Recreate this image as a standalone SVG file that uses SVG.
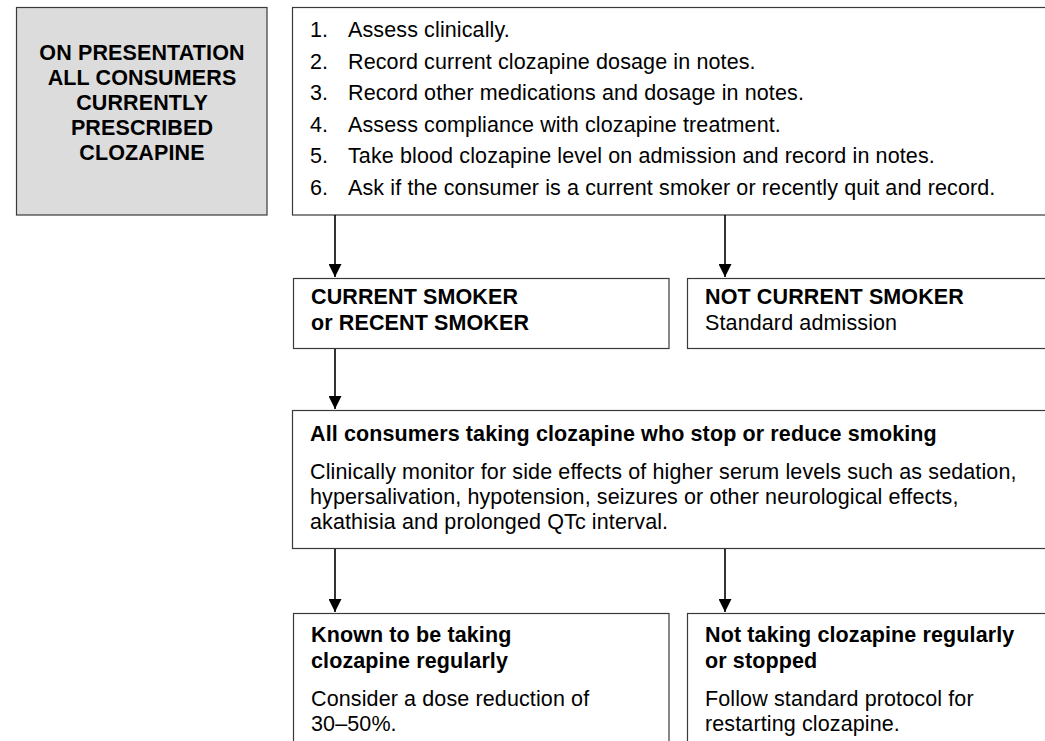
<svg xmlns="http://www.w3.org/2000/svg" width="1045" height="741" viewBox="0 0 1045 741">
<defs>
<style>
.box{fill:#fff;stroke:#3a3a3a;stroke-width:1.2}
.grey{fill:#dcdcdc;stroke:#3a3a3a;stroke-width:1.2}
text{font-family:"Liberation Sans",Arial,sans-serif;font-size:21.5px;fill:#000;letter-spacing:0.12px}
.b{font-weight:bold}
.c{text-anchor:middle;font-size:21.5px}
.con{stroke:#000;stroke-width:1.6;fill:none}
</style>
<marker id="ah" markerWidth="13" markerHeight="13" viewBox="0 0 13 13" refX="13" refY="6.5" orient="auto" markerUnits="userSpaceOnUse">
<path d="M0,0 L13,6.5 L0,13 Z" fill="#000"/>
</marker>
</defs>
<rect width="1045" height="741" fill="#fff"/>
<g id="start">
<rect class="grey" x="16.5" y="7.5" width="250.5" height="207.5"/>
<text class="b c" x="142" y="60">ON PRESENTATION</text>
<text class="b c" x="142" y="85">ALL CONSUMERS</text>
<text class="b c" x="142" y="110">CURRENTLY</text>
<text class="b c" x="142" y="135">PRESCRIBED</text>
<text class="b c" x="142" y="160">CLOZAPINE</text>
</g>
<g id="steps">
<rect class="box" x="292.5" y="7.5" width="760" height="207.5"/>
<text x="310" y="37">1.</text><text x="348" y="37">Assess clinically.</text>
<text x="310" y="68.5">2.</text><text x="348" y="68.5">Record current clozapine dosage in notes.</text>
<text x="310" y="100">3.</text><text x="348" y="100">Record other medications and dosage in notes.</text>
<text x="310" y="131.5">4.</text><text x="348" y="131.5">Assess compliance with clozapine treatment.</text>
<text x="310" y="163">5.</text><text x="348" y="163">Take blood clozapine level on admission and record in notes.</text>
<text x="310" y="194.5">6.</text><text x="348" y="194.5">Ask if the consumer is a current smoker or recently quit and record.</text>
</g>
<g id="smoker">
<rect class="box" x="293.5" y="278.5" width="375.5" height="70"/>
<text class="b" x="311" y="304">CURRENT SMOKER</text>
<text class="b" x="311" y="330">or RECENT SMOKER</text>
</g>
<g id="nonsmoker">
<rect class="box" x="687.5" y="278.5" width="365" height="70"/>
<text class="b" x="705" y="304">NOT CURRENT SMOKER</text>
<text x="705" y="330">Standard admission</text>
</g>
<g id="monitor">
<rect class="box" x="292.5" y="410.5" width="760" height="138"/>
<text class="b" x="310" y="441">All consumers taking clozapine who stop or reduce smoking</text>
<text x="310" y="479">Clinically monitor for side effects of higher serum levels such as sedation,</text>
<text x="310" y="504">hypersalivation, hypotension, seizures or other neurological effects,</text>
<text x="310" y="529">akathisia and prolonged QTc interval.</text>
</g>
<g id="regular">
<rect class="box" x="293.5" y="613.5" width="375.5" height="140"/>
<text class="b" x="311" y="642">Known to be taking</text>
<text class="b" x="311" y="668">clozapine regularly</text>
<text x="311" y="706">Consider a dose reduction of</text>
<text x="311" y="731">30–50%.</text>
</g>
<g id="notregular">
<rect class="box" x="687.5" y="613.5" width="365" height="140"/>
<text class="b" x="705" y="642">Not taking clozapine regularly</text>
<text class="b" x="705" y="668">or stopped</text>
<text x="705" y="706">Follow standard protocol for</text>
<text x="705" y="731">restarting clozapine.</text>
</g>
<g id="connectors">
<line class="con" x1="335" y1="215" x2="335" y2="277" marker-end="url(#ah)"/>
<line class="con" x1="725" y1="215" x2="725" y2="277" marker-end="url(#ah)"/>
<line class="con" x1="335" y1="349" x2="335" y2="409" marker-end="url(#ah)"/>
<line class="con" x1="335" y1="549" x2="335" y2="612" marker-end="url(#ah)"/>
<line class="con" x1="725" y1="549" x2="725" y2="612" marker-end="url(#ah)"/>
</g>
</svg>
